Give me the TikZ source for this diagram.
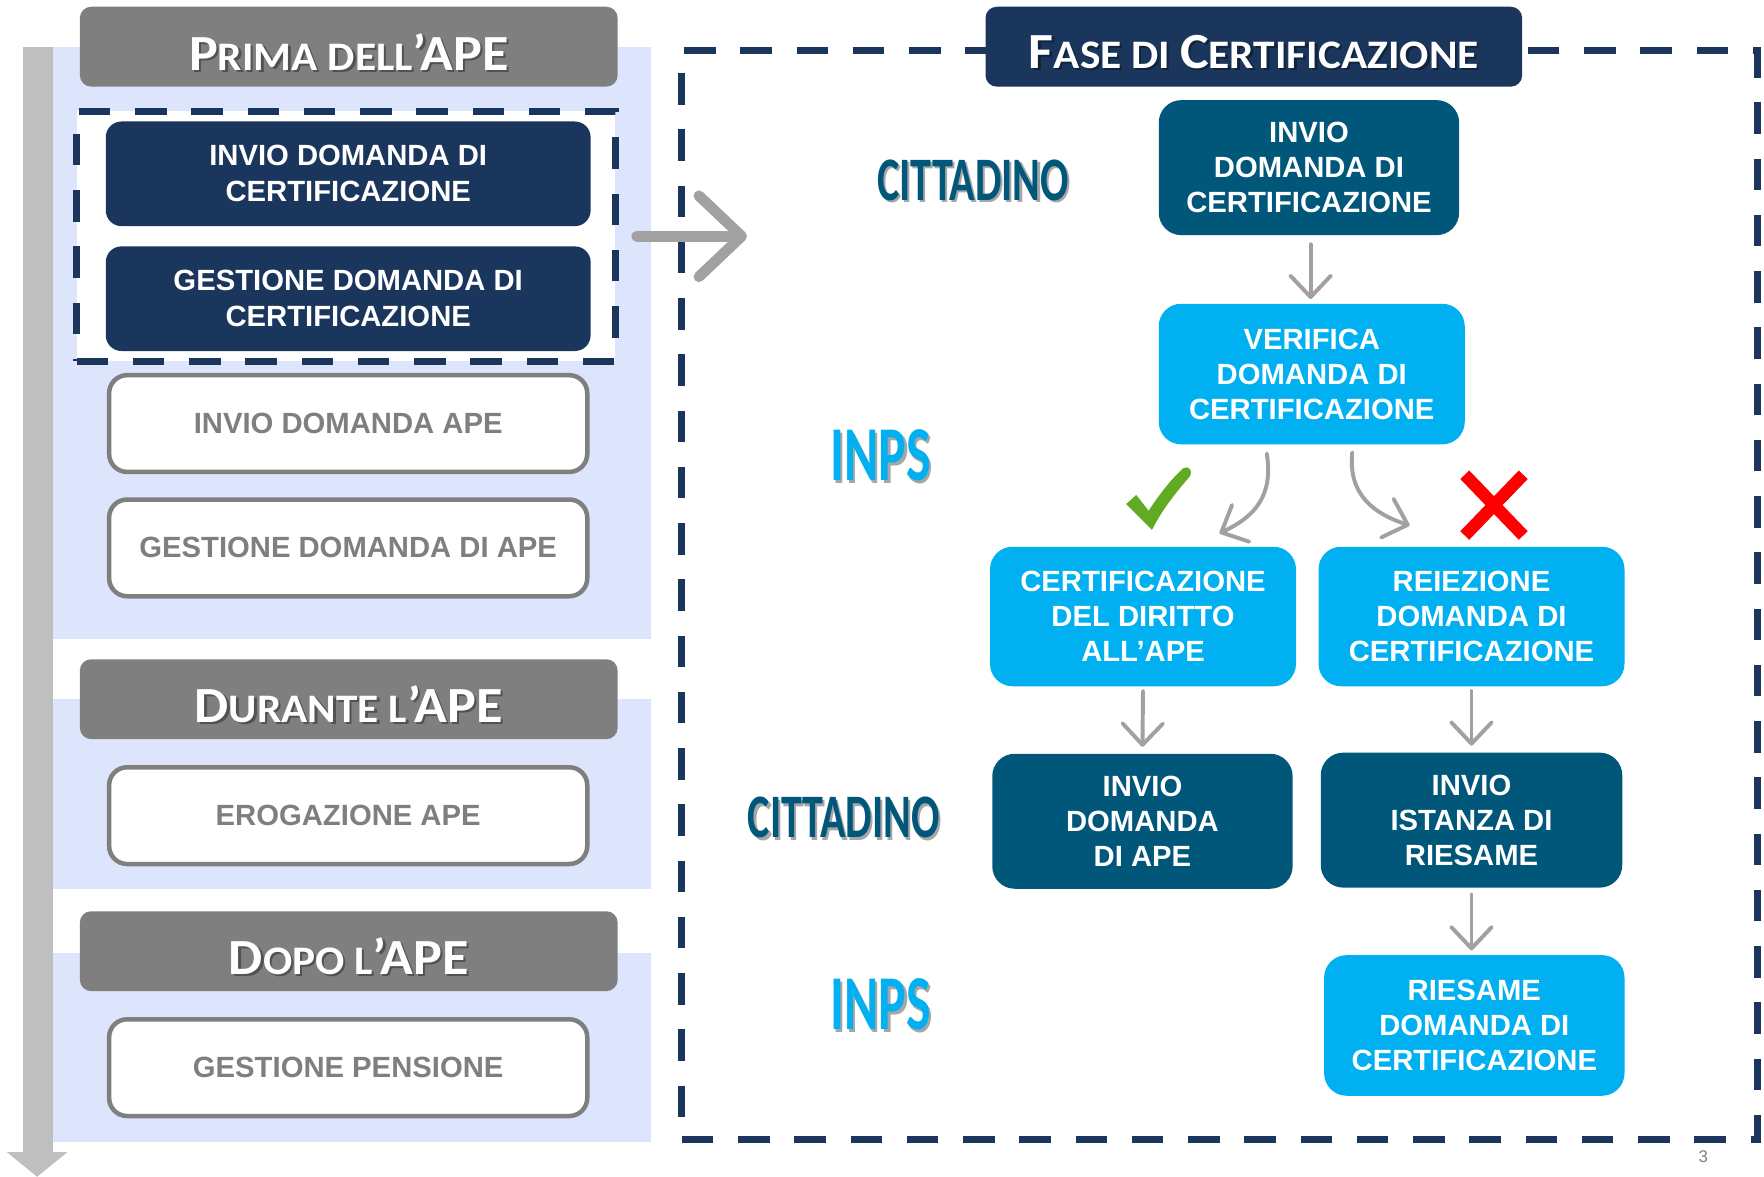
\documentclass[tikz,border=0pt]{standalone}
\usepackage{fontspec}
\usepackage{graphicx}
\setmainfont{Liberation Sans}
\newfontfamily\calib{Carlito}
\usetikzlibrary{arrows.meta}
\definecolor{navy}{RGB}{27,54,93}
\definecolor{tealdk}{RGB}{1,87,122}
\definecolor{lblue}{RGB}{0,176,240}
\definecolor{hgray}{RGB}{127,127,127}
\definecolor{panelblue}{RGB}{221,229,252}
\definecolor{bargray}{RGB}{191,191,191}
\definecolor{agray}{RGB}{163,160,160}
\definecolor{okgreen}{RGB}{96,170,36}
\newcommand\hbig{\fontsize{45}{45}\selectfont}
\newcommand\hsm{\fontsize{36}{36}\selectfont}
\newcommand\hwide[1]{\scalebox{1.07}[1]{#1}}
\tikzset{
  boxbase/.style={align=center, inner sep=0pt, font=\bfseries\fontsize{26}{32}\selectfont},
  navybox/.style={boxbase, rounded corners=14pt, fill=navy, text=white, minimum width=431pt, minimum height=93pt},
  graybox/.style={boxbase, rounded corners=16pt, draw=hgray, line width=4pt, fill=white, text=hgray, minimum width=425pt, minimum height=86pt},
  header/.style={rounded corners=10pt, inner sep=0pt, minimum width=478pt, minimum height=71pt},
  htext/.style={font=\calib\bfseries, text=white, inner sep=0pt},
  hshadow/.style={font=\calib\bfseries, text=black, text opacity=0.35, inner sep=0pt},
  rbox/.style={rounded corners=20pt, align=center, inner sep=0pt, text=white, font=\bfseries\fontsize{26}{31}\selectfont, minimum width=267pt, minimum height=120pt},
  darkr/.style={rbox, fill=tealdk},
  lightr/.style={rbox, fill=lblue},
  actor/.style={font=\calib\bfseries, inner sep=0pt},
  dashframe/.style={draw=navy, line width=6pt, dash pattern=on 28pt off 22pt, inner sep=0pt},
  garrow/.style={draw=agray, line width=3.5pt, line cap=round, line join=round, -{Straight Barb[length=19pt,width=36pt,round]}},
  bigarrow/.style={draw=agray, line width=9.5pt, line cap=round, line join=round, -{Straight Barb[length=38pt,width=72pt,round]}},
}
\begin{document}
\begin{tikzpicture}[x=1pt,y=-1pt]
\useasboundingbox (0,0) rectangle (1568,1046);
\fill[white] (0,0) rectangle (1568,1046);
% panels
\fill[panelblue] (47,42) rectangle (579,568);
\fill[panelblue] (47,621) rectangle (579,790);
\fill[panelblue] (47,847) rectangle (579,1015);
% time bar
\fill[bargray] (20,42) rectangle (47,1024);
\fill[bargray] (6,1024) -- (60,1024) -- (33,1046) -- cycle;
% headers
\node[header, fill=hgray] (h1) at (310,41.5) {};
\node[hshadow] (h1s) at (312,48) {\hwide{{\hbig P}{\hsm RIMA DELL}{\hbig ’APE}}};
\node[htext] (h1t) at (310,46) {\hwide{{\hbig P}{\hsm RIMA DELL}{\hbig ’APE}}};
\node[header, fill=hgray] (h2) at (310,621.5) {};
\node[hshadow] (h2s) at (312,628) {\hwide{{\hbig D}{\hsm URANTE L}{\hbig ’APE}}};
\node[htext] (h2t) at (310,626) {\hwide{{\hbig D}{\hsm URANTE L}{\hbig ’APE}}};
\node[header, fill=hgray] (h3) at (310,845.5) {};
\node[hshadow] (h3s) at (312,852) {\hwide{{\hbig D}{\hsm OPO L}{\hbig ’APE}}};
\node[htext] (h3t) at (310,850) {\hwide{{\hbig D}{\hsm OPO L}{\hbig ’APE}}};
% left dashed group
\node[dashframe, fill=white, minimum width=479pt, minimum height=222pt] (lbox) at (307.5,210) {};
\node[navybox] (l1) at (309.5,154.5) {INVIO DOMANDA DI\\CERTIFICAZIONE};
\node[navybox] (l2) at (309.5,265.5) {GESTIONE DOMANDA DI\\CERTIFICAZIONE};
\node[graybox] (l3) at (309.5,376.5) {INVIO DOMANDA APE};
\node[graybox] (l4) at (309.5,487) {GESTIONE DOMANDA DI APE};
\node[graybox] (l5) at (309.5,725) {EROGAZIONE APE};
\node[graybox] (l6) at (309.5,949) {GESTIONE PENSIONE};
% right frame
\node[dashframe, minimum width=956pt, minimum height=968pt] (frame) at (1084,529) {};
\node[header, fill=navy, minimum width=477pt] (fh) at (1114.5,41.5) {};
\node[hshadow] (fhs) at (1116.5,48) {\hwide{{\hbig F}{\hsm ASE DI }{\hbig C}{\hsm ERTIFICAZIONE}}};
\node[htext] (fht) at (1114.5,46) {\hwide{{\hbig F}{\hsm ASE DI }{\hbig C}{\hsm ERTIFICAZIONE}}};
% big arrow
\coordinate (ga1) at (566,210);
\coordinate (ga2) at (664,210);
\draw[bigarrow] (ga1) -- (ga2);
% actors
\node[actor, text=black, text opacity=0.35] (c1s) at (867,162) {\fontsize{55}{55}\selectfont\scalebox{0.68}[1]{CITTADINO}};
\node[actor, text=tealdk] (c1) at (865,160) {\fontsize{55}{55}\selectfont\scalebox{0.68}[1]{CITTADINO}};
\node[actor, text=black, text opacity=0.35] (i1s) at (785,407) {\fontsize{69}{69}\selectfont\scalebox{0.67}[1]{INPS}};
\node[actor, text=lblue] (i1) at (783,405) {\fontsize{69}{69}\selectfont\scalebox{0.67}[1]{INPS}};
\node[actor, text=black, text opacity=0.35] (c2s) at (752,729) {\fontsize{55}{55}\selectfont\scalebox{0.68}[1]{CITTADINO}};
\node[actor, text=tealdk] (c2) at (750,727) {\fontsize{55}{55}\selectfont\scalebox{0.68}[1]{CITTADINO}};
\node[actor, text=black, text opacity=0.35] (i2s) at (785,895) {\fontsize{69}{69}\selectfont\scalebox{0.67}[1]{INPS}};
\node[actor, text=lblue] (i2) at (783,893) {\fontsize{69}{69}\selectfont\scalebox{0.67}[1]{INPS}};
% flow nodes
\node[darkr] (r1) at (1163.5,149) {INVIO\\DOMANDA DI\\CERTIFICAZIONE};
\node[lightr, minimum width=272pt, minimum height=125pt] (r2) at (1166,332.5) {VERIFICA\\DOMANDA DI\\CERTIFICAZIONE};
\node[lightr, minimum width=272pt, minimum height=124pt] (r3) at (1016,548) {CERTIFICAZIONE\\DEL DIRITTO\\ALL’APE};
\node[lightr, minimum width=272pt, minimum height=124pt] (r4) at (1308,548) {REIEZIONE\\DOMANDA DI\\CERTIFICAZIONE};
\node[darkr] (r5) at (1015.5,730) {INVIO\\DOMANDA\\DI APE};
\node[darkr, minimum width=268pt] (r6) at (1308,729) {INVIO\\ISTANZA DI\\RIESAME};
\node[lightr, minimum height=125pt] (r7) at (1310.5,911.5) {RIESAME\\DOMANDA DI\\CERTIFICAZIONE};
% connectors
\draw[garrow] ([xshift=1.5pt,yshift=-8pt]r1.south) -- ([xshift=1.5pt,yshift=4pt]r1.south |- r2.north);
\draw[garrow] ([yshift=-4pt]r3.south) -- ([yshift=6pt]r5.north);
\draw[garrow] ([yshift=-4pt]r4.south) -- ([yshift=6pt]r4.south |- r6.north);
\draw[garrow] ([yshift=-6pt]r6.south) -- ([yshift=4pt]r6.south |- r7.north);
\coordinate (cl) at (1084,474);
\coordinate (cr) at (1253,467);
\draw[garrow] ([xshift=-40pt,yshift=-8pt]r2.south) .. controls (1132,440) and (1116,459) .. (cl);
\draw[garrow] ([xshift=36pt,yshift=-7pt]r2.south) .. controls (1198,440) and (1222,457) .. (cr);
% check and cross
\fill[okgreen] (1001,448) -- (1010,440) -- (1021,454) .. controls (1032,437) and (1043,424) .. (1052,416) .. controls (1057,414) and (1060,418) .. (1058,423) .. controls (1045,438) and (1033,453) .. (1024,471) -- cycle;
\draw[red, line width=11pt] (1302,422) -- (1354,476);
\draw[red, line width=11pt] (1354,422) -- (1302,476);
% page number
\node[font=\fontsize{15}{15}\selectfont, text=hgray, inner sep=0pt] (pg) at (1514,1028) {3};
\end{tikzpicture}
\end{document}
